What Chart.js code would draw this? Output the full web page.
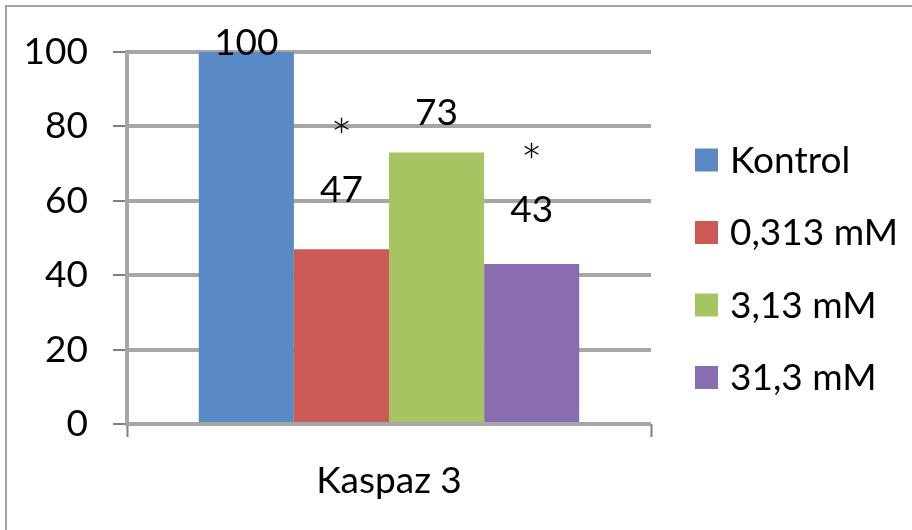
<!DOCTYPE html>
<html>
<head>
<meta charset="utf-8">
<script src="https://cdn.jsdelivr.net/npm/chart.js@4"></script>
<style>
	html, body { margin: 0; padding: 0; background: #fff; }
	#wrap { position: relative; width: 912px; height: 530px; }
	#frame { position: absolute; left: 5px; top: 5px; right: 0; bottom: 0; border-top: 2px solid #a3a3a3; border-left: 2px solid #a3a3a3; }
	canvas { position: absolute; left: 0; top: 0; }
</style>
</head>
<body>
<div id="wrap">
	<div id="frame"></div>
	<canvas id="chartKaspaz"></canvas>
</div>
<script>
const categories = ['Kaspaz 3'];
const seriesNames = ['Kontrol', '0,313 mM', '3,13 mM', '31,3 mM'];
const seriesValues = [100, 47, 73, 43];
const significance = ['', '*', '', '*'];
const yTicks = [0, 20, 40, 60, 80, 100];

const FONT = "Lato, 'Open Sans', sans-serif";
const FONT_SIZE = 37;
const colors = ['#5a8ac6', '#cb5a55', '#a6c562', '#8a6db0'];

// Étiquettes de valeurs et astérisques
const barNotes = {
	id: 'barNotes',
	afterDatasetsDraw(chart, args, opts) {
		const ctx = chart.ctx;
		const y = chart.scales.y;
		ctx.save();
		ctx.fillStyle = '#000';
		ctx.textAlign = 'center';
		ctx.textBaseline = 'middle';
		chart.data.datasets.forEach((ds, i) => {
			const bar = chart.getDatasetMeta(i).data[0];
			ctx.font = FONT_SIZE + 'px ' + FONT;
			ctx.fillText(String(ds.data[0]), bar.x, y.getPixelForValue(opts.labelAt[i]));
			if (significance[i]) {
				ctx.font = '300 52px ' + FONT;
				ctx.fillText(significance[i], bar.x, y.getPixelForValue(opts.starAt[i]));
			}
		});
		ctx.restore();
	}
};

// Légende à droite (façon Excel)
const sideLegend = {
	id: 'sideLegend',
	afterDraw(chart, args, opts) {
		const ctx = chart.ctx;
		ctx.save();
		ctx.textAlign = 'left';
		ctx.textBaseline = 'middle';
		ctx.font = FONT_SIZE + 'px ' + FONT;
		chart.data.datasets.forEach((ds, i) => {
			const cy = opts.top + i * opts.step;
			ctx.fillStyle = ds.backgroundColor;
			ctx.fillRect(opts.left, cy - opts.box / 2, opts.box, opts.box);
			ctx.fillStyle = '#000';
			ctx.fillText(ds.label, opts.left + opts.box + 12, cy + 1);
		});
		ctx.restore();
	}
};

new Chart(document.getElementById('chartKaspaz'), {
	type: 'bar',
	data: {
		labels: categories,
		datasets: seriesNames.map((name, i) => ({
			label: name,
			data: [seriesValues[i]],
			backgroundColor: colors[i],
			categoryPercentage: 0.726,
			barPercentage: 1
		}))
	},
	options: {
		responsive: true,
		maintainAspectRatio: false,
		animation: false,
		layout: { padding: { top: 52, right: 261, bottom: 0, left: 0 } },
		plugins: {
			tooltip: { enabled: false },
			legend: { display: false },
			sideLegend: { left: 695, top: 160, step: 72.5, box: 23 },
			barNotes: {
				labelAt: [102.5, 63, 83.5, 57.5],
				starAt: [null, 76.5, null, 69.8]
			}
		},
		scales: {
			x: {
				afterFit: s => { s.height = 106; },
				grid: { display: true, drawOnChartArea: false, tickLength: 13, tickColor: '#7f7f7f', tickWidth: 2 },
				border: { display: false },
				ticks: { color: '#000', padding: 22, font: { family: FONT, size: FONT_SIZE } }
			},
			y: {
				min: 0,
				max: 100,
				afterFit: s => { s.width = 127; },
				afterBuildTicks: s => { s.ticks = yTicks.map(v => ({ value: v })); },
				grid: { color: '#a6a6a6', lineWidth: 4, tickLength: 14, tickColor: '#7f7f7f', tickWidth: 2 },
				border: { display: true, color: '#a6a6a6', width: 4 },
				ticks: { color: '#000', padding: 25, font: { family: FONT, size: FONT_SIZE } }
			}
		}
	},
	plugins: [barNotes, sideLegend]
});
</script>
</body>
</html>
